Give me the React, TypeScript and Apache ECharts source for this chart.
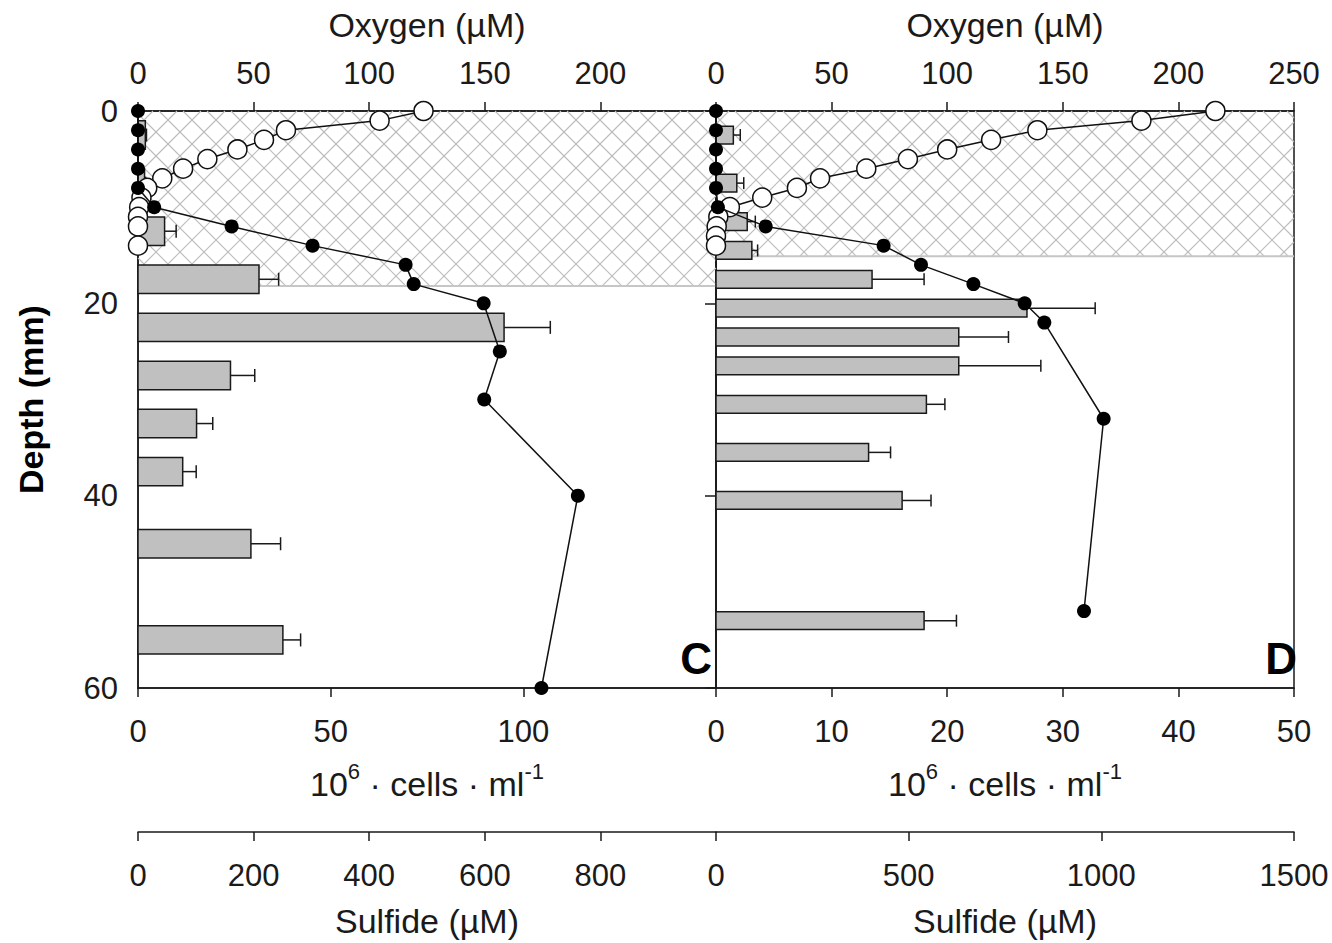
import React, { useEffect, useRef } from 'react';
import * as echarts from 'echarts';

// ---------- Panel C ----------
const C_OXY_DEPTH = [0, 1, 2, 3, 4, 5, 6, 7, 8, 9, 10, 11, 12, 14];
const C_OXY = [123.5, 104.5, 64, 54.5, 43, 30, 19.5, 10.5, 4, 1.5, 0.5, 0, 0, 0];
const C_SULF_DEPTH = [0, 2, 4, 6, 8, 10, 12, 14, 16, 18, 20, 25, 30, 40, 60];
const C_SULF = [0, 0, 0, 0, 0, 28, 162, 302, 463, 477, 598, 626, 599, 761, 698];
const C_CELL_DEPTH = [2.5, 7.5, 12.5, 17.5, 22.5, 27.5, 32.5, 37.5, 45, 55];
const C_CELLS = [1.9, 1.7, 6.9, 31.4, 95, 24, 15.2, 11.6, 29.3, 37.6];
const C_CELL_ERR = [0.3, 0.3, 3, 5.1, 12, 6.3, 4.2, 3.5, 7.7, 4.6];
const C_OXIC_DEPTH = 18.2;

// ---------- Panel D ----------
const D_OXY_DEPTH = [0, 1, 2, 3, 4, 5, 6, 7, 8, 9, 10, 11, 12, 13, 14];
const D_OXY = [216, 184, 139, 119, 100, 83, 65, 45, 35, 20, 6, 1, 0.3, 0, 0];
const D_SULF_DEPTH = [0, 2, 4, 6, 8, 10, 12, 14, 16, 18, 20, 22, 32, 52];
const D_SULF = [0, 0, 0, 0, 0, 5, 129, 435, 532, 668, 801, 852, 1006, 955];
const D_CELL_DEPTH = [2.5, 7.5, 11.5, 14.5, 17.5, 20.5, 23.5, 26.5, 30.5, 35.5, 40.5, 53];
const D_CELLS = [1.5, 1.8, 2.7, 3.1, 13.5, 26.9, 21.0, 21.0, 18.2, 13.2, 16.1, 18.0];
const D_CELL_ERR = [0.6, 0.6, 0.7, 0.5, 4.5, 5.9, 4.3, 7.1, 1.6, 1.9, 2.5, 2.8];
const D_OXIC_DEPTH = 15.1;

// axis ranges / tick steps
const OXY_MAX = 250;
const OXY_STEP = 50;
const C_CELL_MAX = 150;
const C_CELL_STEP = 50;
const D_CELL_MAX = 50;
const D_CELL_STEP = 10;
const C_SULF_MAX = 1000;
const C_SULF_STEP = 200;
const D_SULF_MAX = 1500;
const D_SULF_STEP = 500;
const DEPTH_MAX = 60;
const DEPTH_STEP = 20;

const FONT = "'Liberation Sans', Arial, Helvetica, sans-serif";
const TXT = '#1a1a1a';
const AX = '#1a1a1a';
const TICK_FS = 31;
const NAME_FS = 34;

function hatchRender(params: any, api: any) {
  const cs = params.coordSys;
  const top = api.coord([0, 0])[1];
  const bottom = api.coord([0, api.value(1)])[1];
  const x0 = cs.x;
  const x1 = cs.x + cs.width;
  const y0 = top;
  const y1 = bottom;
  const s = 24;
  const children: any[] = [];
  const st = { stroke: '#bcbcbc', lineWidth: 1.1 };
  const cStart = Math.floor((x0 + y0) / s) * s;
  for (let c = cStart; c <= x1 + y1; c += s) {
    const xa = Math.max(x0, c - y1);
    const xb = Math.min(x1, c - y0);
    if (xa < xb) children.push({ type: 'line', shape: { x1: xa, y1: c - xa, x2: xb, y2: c - xb }, style: st });
  }
  const dStart = Math.floor((x0 - y1) / s) * s;
  for (let c = dStart; c <= x1 - y0; c += s) {
    const xa = Math.max(x0, y0 + c);
    const xb = Math.min(x1, y1 + c);
    if (xa < xb) children.push({ type: 'line', shape: { x1: xa, y1: xa - c, x2: xb, y2: xb - c }, style: st });
  }
  children.push({ type: 'line', shape: { x1: x0, y1: y1, x2: x1, y2: y1 }, style: { stroke: '#c6c6c6', lineWidth: 2 } });
  return { type: 'group', children };
}

function barRender(thickness: number, capHalf: number) {
  return (params: any, api: any) => {
    const val = api.value(0);
    const depth = api.value(1);
    const err = api.value(2);
    const p0 = api.coord([0, depth - thickness / 2]);
    const p1 = api.coord([val, depth + thickness / 2]);
    const pc = api.coord([val, depth]);
    const pe = api.coord([val + err, depth]);
    return {
      type: 'group',
      children: [
        { type: 'line', shape: { x1: pc[0], y1: pc[1], x2: pe[0], y2: pe[1] }, style: { stroke: '#1a1a1a', lineWidth: 1.5 } },
        { type: 'line', shape: { x1: pe[0], y1: pe[1] - capHalf, x2: pe[0], y2: pe[1] + capHalf }, style: { stroke: '#1a1a1a', lineWidth: 1.5 } },
        {
          type: 'rect',
          shape: { x: Math.min(p0[0], p1[0]), y: Math.min(p0[1], p1[1]), width: Math.abs(p1[0] - p0[0]), height: Math.abs(p1[1] - p0[1]) },
          style: { fill: '#c0c0c0', stroke: '#1a1a1a', lineWidth: 1.5 },
        },
      ],
    };
  };
}

function xAxis(g: number, position: string, max: number, step: number, name: any, opt: any) {
  return {
    type: 'value',
    gridIndex: g,
    position,
    min: 0,
    max,
    interval: step,
    offset: opt.offset || 0,
    name,
    nameLocation: 'middle',
    nameGap: opt.nameGap,
    nameTextStyle: opt.nameTextStyle || { fontSize: NAME_FS, fontFamily: FONT, color: TXT },
    axisLine: { show: true, onZero: false, lineStyle: { color: AX, width: 1.5 } },
    axisTick: { show: true, inside: false, length: 9, lineStyle: { color: AX, width: 1.5 } },
    axisLabel: {
      fontSize: TICK_FS, fontFamily: FONT, color: TXT, margin: opt.margin,
      showMaxLabel: opt.showMax, showMinLabel: true,
      formatter: (v: number) => String(v),
    },
    splitLine: { show: false },
  };
}

const cellsName = '{n|10}{s|6}{n| · cells · ml}{s|-1}';
const cellsNameStyle = {
  fontFamily: FONT,
  color: TXT,
  rich: {
    n: { fontSize: NAME_FS, fontFamily: FONT, color: TXT, lineHeight: 48 },
    s: { fontSize: 22, fontFamily: FONT, color: TXT, lineHeight: 22, verticalAlign: 'top' },
  },
};

export default function App() {
  const ref = useRef<HTMLDivElement>(null);
  useEffect(() => {
    if (!ref.current) return;
    const chart = echarts.init(ref.current, null, { renderer: 'svg' });
    const lineCommon = { type: 'line', clip: false, symbol: 'circle', lineStyle: { color: '#111', width: 1.5 } };
    const oxyStyle = { symbolSize: 19, itemStyle: { color: '#fff', borderColor: '#111', borderWidth: 1.5 }, z: 4 };
    const sulfStyle = { symbolSize: 14, itemStyle: { color: '#000', borderColor: '#000', borderWidth: 0 }, z: 5 };

    const option: any = {
      animation: false,
      backgroundColor: '#fff',
      grid: [
        { left: 138, top: 111, width: 578, height: 577, show: true, borderColor: AX, borderWidth: 1.5, backgroundColor: 'transparent', outerBoundsMode: 'none' },
        { left: 716, top: 111, width: 578, height: 577, show: true, borderColor: AX, borderWidth: 1.5, backgroundColor: 'transparent', outerBoundsMode: 'none' },
      ],
      xAxis: [
        xAxis(0, 'top', OXY_MAX, OXY_STEP, 'Oxygen (µM)', { nameGap: 69, margin: 22, showMax: false }),
        xAxis(0, 'bottom', C_CELL_MAX, C_CELL_STEP, cellsName, { nameGap: 72, margin: 28, showMax: false, nameTextStyle: cellsNameStyle }),
        xAxis(0, 'bottom', C_SULF_MAX, C_SULF_STEP, 'Sulfide (µM)', { offset: 144, nameGap: 72, margin: 28, showMax: false }),
        xAxis(1, 'top', OXY_MAX, OXY_STEP, 'Oxygen (µM)', { nameGap: 69, margin: 22, showMax: true }),
        xAxis(1, 'bottom', D_CELL_MAX, D_CELL_STEP, cellsName, { nameGap: 72, margin: 28, showMax: true, nameTextStyle: cellsNameStyle }),
        xAxis(1, 'bottom', D_SULF_MAX, D_SULF_STEP, 'Sulfide (µM)', { offset: 144, nameGap: 72, margin: 28, showMax: true }),
      ],
      yAxis: [
        {
          type: 'value', gridIndex: 0, inverse: true, min: 0, max: DEPTH_MAX, interval: DEPTH_STEP,
          name: 'Depth (mm)', nameLocation: 'middle', nameGap: 90,
          nameTextStyle: { fontSize: NAME_FS, fontWeight: 'bold', fontFamily: FONT, color: '#000' },
          axisLine: { show: true, onZero: false, lineStyle: { color: AX, width: 1.5 } },
          axisTick: { show: false },
          axisLabel: { fontSize: TICK_FS, fontFamily: FONT, color: TXT, margin: 20 },
          splitLine: { show: false },
        },
        {
          type: 'value', gridIndex: 1, inverse: true, min: 0, max: DEPTH_MAX, interval: DEPTH_STEP,
          axisLine: { show: true, onZero: false, lineStyle: { color: AX, width: 1.5 } },
          axisTick: { show: true, inside: false, length: 11, lineStyle: { color: AX, width: 1.5 } },
          axisLabel: { show: false },
          splitLine: { show: false },
        },
      ],
      series: [
        { type: 'custom', xAxisIndex: 0, yAxisIndex: 0, data: [[0, C_OXIC_DEPTH]], renderItem: hatchRender, z: 1, silent: true },
        { type: 'custom', xAxisIndex: 3, yAxisIndex: 1, data: [[0, D_OXIC_DEPTH]], renderItem: hatchRender, z: 1, silent: true },
        {
          type: 'custom', xAxisIndex: 1, yAxisIndex: 0, z: 2,
          data: C_CELLS.map((v, i) => [v, C_CELL_DEPTH[i], C_CELL_ERR[i]]),
          encode: { x: 0, y: 1 },
          renderItem: barRender(2.95, 6.5),
        },
        {
          type: 'custom', xAxisIndex: 4, yAxisIndex: 1, z: 2,
          data: D_CELLS.map((v, i) => [v, D_CELL_DEPTH[i], D_CELL_ERR[i]]),
          encode: { x: 0, y: 1 },
          renderItem: barRender(1.85, 6),
        },
        { ...lineCommon, ...oxyStyle, name: 'Oxygen C', xAxisIndex: 0, yAxisIndex: 0, data: C_OXY.map((v, i) => [v, C_OXY_DEPTH[i]]) },
        { ...lineCommon, ...sulfStyle, name: 'Sulfide C', xAxisIndex: 2, yAxisIndex: 0, data: C_SULF.map((v, i) => [v, C_SULF_DEPTH[i]]) },
        { ...lineCommon, ...oxyStyle, name: 'Oxygen D', xAxisIndex: 3, yAxisIndex: 1, data: D_OXY.map((v, i) => [v, D_OXY_DEPTH[i]]) },
        { ...lineCommon, ...sulfStyle, name: 'Sulfide D', xAxisIndex: 5, yAxisIndex: 1, data: D_SULF.map((v, i) => [v, D_SULF_DEPTH[i]]) },
      ],
      graphic: [
        { type: 'text', x: 712, y: 658, z: 10, style: { text: 'C', font: `bold 44px ${FONT}`, fill: '#000', align: 'right', verticalAlign: 'middle' } },
        { type: 'text', x: 1297, y: 658, z: 10, style: { text: 'D', font: `bold 44px ${FONT}`, fill: '#000', align: 'right', verticalAlign: 'middle' } },
      ],
    };
    chart.setOption(option);
    return () => chart.dispose();
  }, []);
  return <div ref={ref} style={{ position: 'absolute', left: 0, top: 0, width: 1332, height: 943 }} />;
}
